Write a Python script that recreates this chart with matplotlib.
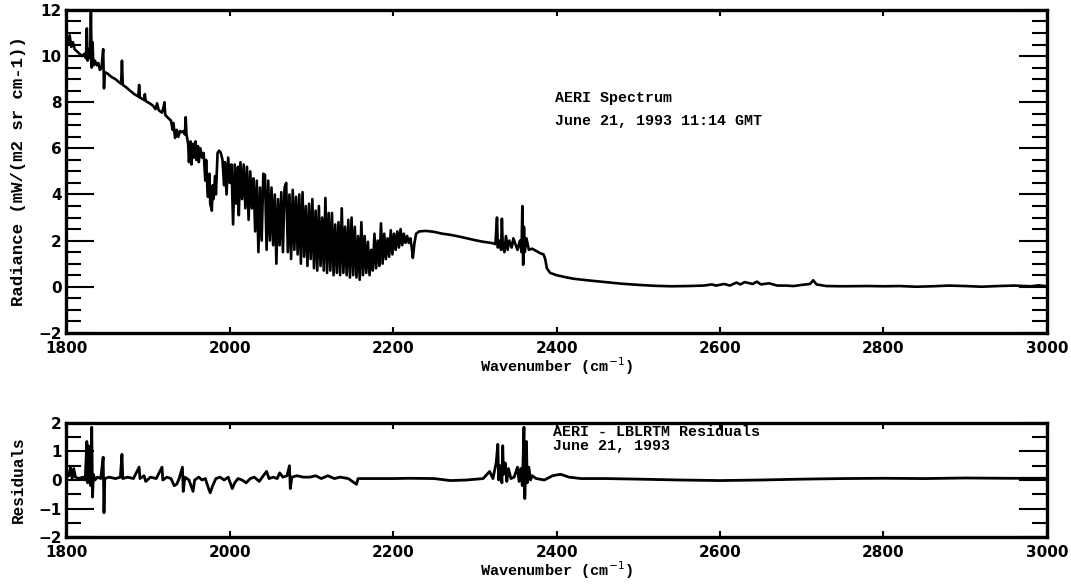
import matplotlib
matplotlib.use("Agg")
import matplotlib.pyplot as plt
from matplotlib.ticker import MultipleLocator

# AERI spectrum, June 21 1993
wn = [1800, 1802, 1804, 1806, 1808, 1810, 1813, 1816, 1819, 1822, 1824, 1825, 1826, 1827, 1829,
      1830, 1831, 1832, 1833, 1835, 1837, 1839, 1841, 1843, 1845, 1846, 1847, 1850, 1855, 1860,
      1865, 1867, 1868, 1869, 1873, 1878, 1883, 1888, 1889, 1890, 1895, 1896, 1897, 1902, 1906,
      1909, 1911, 1913, 1917, 1919, 1920, 1921, 1925, 1928, 1930, 1931, 1933, 1935, 1937, 1939,
      1941, 1943, 1945, 1946, 1947,
      1949, 1950, 1952, 1953, 1955, 1956, 1958, 1959, 1961, 1962, 1964, 1966, 1968, 1970, 1971,
      1973, 1975, 1976, 1978, 1979, 1980, 1982, 1983, 1985, 1987, 1989, 1991, 1993, 1994, 1996,
      1998, 2000, 2002, 2004, 2006, 2008, 2010, 2011, 2013, 2015, 2017, 2019, 2021, 2023, 2025,
      2027, 2029, 2031, 2033, 2035, 2037, 2039, 2041, 2043, 2045, 2047, 2049, 2051, 2053, 2055,
      2057, 2059, 2061, 2063, 2065, 2067, 2069, 2071, 2073, 2075, 2077, 2079, 2081, 2083, 2085,
      2087, 2089, 2091, 2093, 2095, 2097, 2099, 2101, 2103, 2105, 2107, 2109, 2111, 2113, 2115,
      2117, 2119, 2121, 2123, 2125, 2127, 2129, 2131, 2133, 2135, 2137, 2139, 2141, 2143, 2145,
      2147, 2149, 2151, 2153, 2155, 2157, 2159, 2161, 2163, 2165, 2167, 2169, 2171, 2173, 2175,
      2177, 2179, 2181, 2183, 2185, 2187, 2189, 2191, 2193, 2195, 2197, 2199, 2201, 2203, 2205,
      2207, 2209, 2211, 2213, 2215, 2217, 2219, 2221, 2223, 2224, 2226, 2228,
      2232, 2240, 2250, 2260, 2270, 2280, 2290, 2300, 2310, 2320, 2325, 2327, 2328, 2330, 2332,
      2333, 2334, 2336, 2338, 2340, 2342, 2345, 2347, 2350, 2352, 2355, 2357, 2358, 2359, 2360,
      2361, 2363, 2366, 2370, 2375, 2380, 2384, 2386, 2388, 2392, 2400, 2410, 2420, 2440, 2460,
      2480, 2500, 2520, 2540, 2560, 2580, 2590, 2595, 2605, 2612, 2620, 2625, 2630, 2640, 2645,
      2650, 2660, 2670, 2680, 2690, 2700, 2710, 2714, 2718, 2730, 2750, 2780, 2800, 2820, 2840,
      2860, 2880, 2900, 2920, 2940, 2960, 2980, 2990, 3000]
radiance = [10.7, 10.5, 10.9, 10.4, 10.6, 10.3, 10.2, 10.1, 10.0, 10.1, 9.9, 11.2, 9.8, 10.3, 9.9,
            11.9, 9.5, 10.6, 9.6, 9.8, 9.6, 9.7, 9.4, 9.5, 10.3, 8.6, 9.3, 9.25, 9.1, 9.0,
            8.85, 8.8, 9.8, 8.75, 8.65, 8.5, 8.35, 8.25, 8.75, 8.2, 8.1, 8.35, 8.05, 7.95, 7.85,
            7.7, 7.95, 7.65, 7.55, 7.8, 8.0, 7.45, 7.3, 7.2, 6.8, 7.1, 6.45, 6.8, 6.5, 6.75,
            6.7, 6.75, 6.6, 7.35, 6.6,
            6.2, 5.4, 6.3, 5.3, 6.2, 5.6, 6.3, 5.5, 6.1, 5.4, 6.0, 5.6, 5.8, 4.6, 5.5,
            3.9, 4.9, 3.6, 3.3, 4.4, 3.8, 4.8, 4.0, 5.8, 5.9, 5.8, 5.5, 4.4, 5.4, 4.0,
            5.6, 4.5, 5.3, 2.7, 5.3, 3.6, 5.2, 3.1, 5.4, 3.8, 5.3, 3.4, 5.2, 2.9, 5.0,
            3.4, 4.7, 2.4, 4.6, 1.5, 4.3, 2.0, 4.9, 4.85, 1.6, 4.6, 2.0, 4.3, 1.8, 4.0,
            1.0, 3.8, 1.8, 4.1, 1.5, 4.3, 4.5, 1.5, 4.0, 1.2, 4.2, 1.6, 3.9, 1.4, 4.0,
            1.0, 4.1, 1.3, 3.5, 0.9, 3.6, 1.2, 3.8, 0.8, 3.3, 0.7, 3.5, 0.9, 3.0, 0.7,
            3.85, 0.6, 3.2, 0.7, 3.2, 0.5, 2.7, 0.6, 2.8, 0.5, 3.4, 0.6, 2.6, 0.5, 2.9,
            0.4, 3.0, 0.5, 2.6, 0.4, 2.2, 0.3, 2.8, 0.5, 2.2, 0.6, 1.95, 0.5, 1.6, 0.7,
            2.3, 0.8, 2.0, 0.9, 2.75, 1.0, 2.3, 1.2, 2.1, 1.3, 2.45, 1.4, 2.3, 1.6, 2.4,
            1.7, 2.5, 1.8, 2.3, 1.9, 2.2, 1.9, 2.1, 1.6, 1.25, 1.9, 2.3,
            2.4, 2.42, 2.38, 2.3, 2.25, 2.18, 2.1, 2.02, 1.95, 1.9, 1.85, 3.0, 1.7, 2.0, 1.6,
            2.95, 1.8, 1.5, 2.2, 1.6, 2.0, 1.7, 2.1, 1.8, 1.6, 2.0, 1.5, 3.5, 0.95, 2.6,
            1.5, 2.1, 1.6, 1.65, 1.55, 1.45, 1.4, 1.2, 0.8, 0.6, 0.5, 0.42, 0.35, 0.27, 0.2,
            0.13, 0.08, 0.04, 0.02, 0.03, 0.05, 0.1, 0.05, 0.12, 0.05, 0.18, 0.1, 0.2, 0.12, 0.22,
            0.1, 0.15, 0.05, 0.05, 0.03, 0.08, 0.12, 0.28, 0.1, 0.03, 0.02, 0.03, 0.02, 0.03, 0.0,
            0.02, 0.05, 0.03, 0.0, 0.03, 0.05, 0.02, 0.06, 0.02]

# AERI - LBLRTM residuals
wn_res = [1800, 1803, 1805, 1807, 1809, 1811, 1815, 1820, 1823, 1825, 1826, 1827, 1828, 1830, 1831,
          1832, 1833, 1835, 1838, 1842, 1845, 1846, 1847, 1852, 1860, 1866, 1868, 1869, 1875, 1882,
          1889, 1890, 1895, 1897, 1903, 1910, 1917, 1918, 1923, 1928, 1932, 1935, 1938, 1942, 1943,
          1945, 1950, 1955, 1957, 1962, 1966, 1970, 1974, 1976, 1979, 1983, 1988, 1993, 1998, 2003,
          2006, 2010, 2015, 2020, 2025, 2030, 2036, 2041, 2045, 2048, 2053, 2058, 2061, 2065, 2070,
          2073, 2074, 2076, 2082, 2090, 2098, 2105, 2112, 2120, 2128, 2135, 2145, 2155, 2157, 2170,
          2185, 2200, 2220, 2250, 2270, 2290, 2310, 2318, 2322, 2326, 2328, 2329, 2331, 2333, 2334,
          2335, 2337, 2339, 2341, 2344, 2348, 2352, 2354, 2356, 2358, 2360, 2361, 2362, 2363, 2364,
          2366, 2368, 2370, 2375, 2385, 2395, 2405, 2415, 2430, 2460, 2500, 2550, 2600, 2650, 2700,
          2750, 2800, 2850, 2900, 2950, 3000]
residual = [0.1, 0.15, 0.45, 0.05, 0.4, 0.1, 0.05, 0.1, 0.0, 1.35, -0.1, 1.2, 0.05, -0.2, 1.85,
            -0.6, 0.2, 0.0, 0.1, 0.05, 0.8, -1.15, 0.05, 0.1, 0.05, 0.1, 0.9, 0.05, 0.1, 0.05,
            0.45, 0.05, 0.15, -0.05, 0.1, 0.05, 0.45, 0.0, 0.1, 0.05, -0.2, -0.15, 0.05, 0.45, -0.4,
            0.1, 0.0, -0.4, 0.0, 0.1, 0.0, 0.05, -0.3, -0.45, -0.2, 0.05, 0.1, 0.0, 0.1, -0.3,
            -0.1, 0.05, 0.0, -0.1, 0.05, 0.1, -0.05, 0.15, 0.3, 0.05, 0.1, 0.05, 0.25, 0.1, 0.15,
            0.5, -0.3, 0.1, 0.15, 0.1, 0.1, 0.15, 0.05, 0.15, 0.05, 0.1, 0.05, -0.15, 0.05, 0.05,
            0.05, 0.05, 0.06, 0.05, -0.02, 0.0, 0.05, 0.3, 0.05, 0.6, 1.25, 0.0, 0.5, -0.1, 1.2,
            0.2, 0.6, -0.05, 0.4, 0.05, 0.1, 0.45, -0.05, 0.4, -0.2, 1.85, -0.65, 0.3, 1.35, -0.1,
            0.45, 0.0, 0.15, 0.05, 0.0, 0.15, 0.2, 0.1, 0.05, 0.05, 0.03, 0.0, -0.02, 0.0, 0.03,
            0.05, 0.06, 0.05, 0.07, 0.06, 0.06]

xticks = [1800, 2000, 2200, 2400, 2600, 2800, 3000]
label_font = "Liberation Mono"

fig = plt.figure(figsize=(10.71, 5.85), dpi=100)
ax1 = fig.add_axes([0.062, 0.431, 0.9155, 0.552])
ax2 = fig.add_axes([0.062, 0.082, 0.9155, 0.195])

ax1.plot(wn, radiance, color="black", lw=1.9)
ax2.plot(wn_res, residual, color="black", lw=2.0)

for ax in (ax1, ax2):
    ax.set_xlim(1800, 3000)
    ax.set_xticks(xticks)
    for s in ax.spines.values():
        s.set_linewidth(2.4)
    ax.tick_params(axis="x", direction="in", length=4, width=1.5, top=True,
                   labelsize=11, pad=6)
    ax.tick_params(axis="y", which="major", direction="in", length=20, width=1.5,
                   right=True, labelsize=11)
    ax.tick_params(axis="y", which="minor", direction="in", length=11, width=1.5,
                   right=True)
    for lab in ax.get_xticklabels() + ax.get_yticklabels():
        lab.set_fontweight("bold")
    ax.set_xlabel("Wavenumber (cm$^{-1}$)", fontfamily=label_font,
                  fontweight="bold", fontsize=11, labelpad=-1)

ax1.set_ylim(-2, 12)
ax1.yaxis.set_major_locator(MultipleLocator(2))
ax1.yaxis.set_minor_locator(MultipleLocator(0.5))
ax1.set_ylabel("Radiance (mW/(m2 sr cm-1))", fontfamily=label_font,
               fontweight="bold", fontsize=12.5, labelpad=9)

ax2.set_ylim(-2, 2)
ax2.yaxis.set_major_locator(MultipleLocator(1))
ax2.yaxis.set_minor_locator(MultipleLocator(0.5))
ax2.set_ylabel("Residuals", fontfamily=label_font, fontweight="bold",
               fontsize=11.5, labelpad=9)

ax1.text(2398, 8.2, "AERI Spectrum", fontfamily=label_font,
         fontweight="bold", fontsize=10.8, va="center")
ax1.text(2398, 7.2, "June 21, 1993 11:14 GMT", fontfamily=label_font,
         fontweight="bold", fontsize=10.8, va="center")
ax2.text(2396, 1.68, "AERI - LBLRTM Residuals", fontfamily=label_font,
         fontweight="bold", fontsize=10.8, va="center")
ax2.text(2396, 1.18, "June 21, 1993", fontfamily=label_font,
         fontweight="bold", fontsize=10.8, va="center")

fig.savefig("out.png", dpi=100)
